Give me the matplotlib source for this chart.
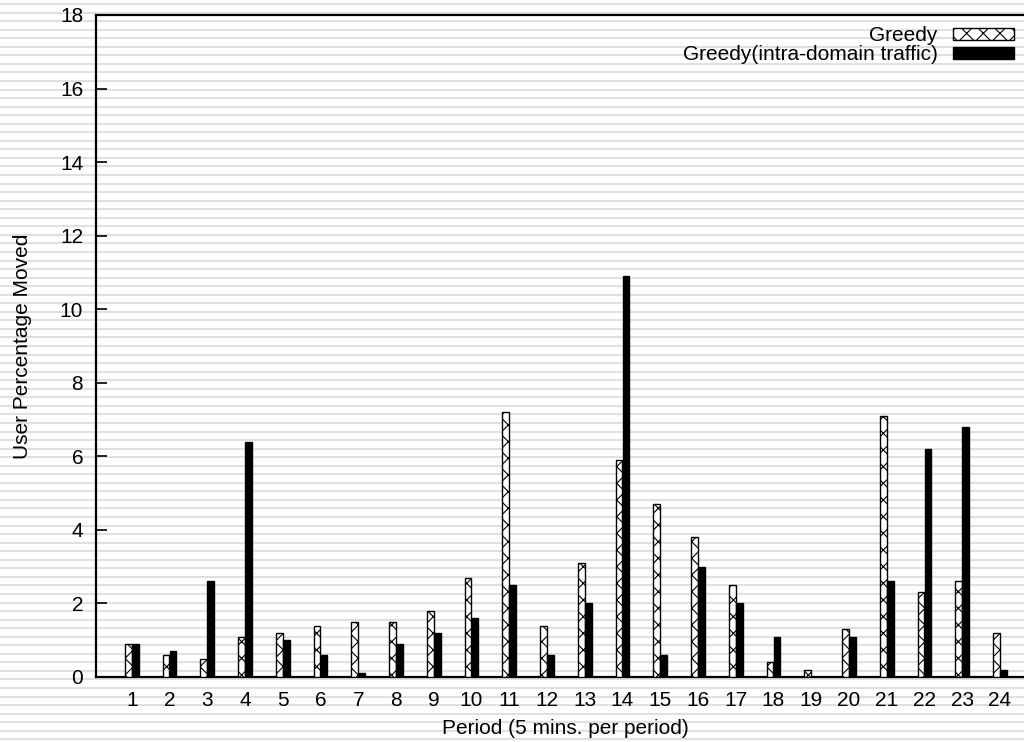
import matplotlib
matplotlib.use("Agg")
import matplotlib.pyplot as plt
from matplotlib.lines import Line2D
import numpy as np

plt.rcParams['font.family'] = ['Liberation Sans', 'DejaVu Sans']
plt.rcParams['hatch.linewidth'] = 0.8

# data
periods = list(range(1, 25))
greedy = [0.9, 0.6, 0.5, 1.1, 1.2, 1.4, 1.5, 1.5, 1.8, 2.7, 7.2, 1.4,
          3.1, 5.9, 4.7, 3.8, 2.5, 0.4, 0.2, 1.3, 7.1, 2.3, 2.6, 1.2]
greedy_intra = [0.9, 0.7, 2.6, 6.4, 1.0, 0.6, 0.1, 0.9, 1.2, 1.6, 2.5, 0.6,
                2.0, 10.9, 0.6, 3.0, 2.0, 1.1, 0.0, 1.1, 2.6, 6.2, 6.8, 0.2]
yticks = [0, 2, 4, 6, 8, 10, 12, 14, 16, 18]

fs = 15

fig = plt.figure(figsize=(10.24, 7.42), dpi=100)
fig.patch.set_facecolor('white')

# striped background over the whole figure
H = 742
y = 4.0
while y < H:
    fig.add_artist(Line2D([0, 1], [1 - y / H, 1 - y / H], transform=fig.transFigure,
                          color='#e0e0e0', lw=1.5, zorder=0))
    y += 8.55

ax = fig.add_axes([95.7 / 1024, 65 / 742, 1 - 95.7 / 1024, 662 / 742])
ax.patch.set_alpha(0)

x = np.array(periods)
w = 0.18
ax.bar(x - 0.09, greedy, w, facecolor='white', edgecolor='black', hatch='xx',
       lw=1.0, label='Greedy', zorder=3)
ax.bar(x + 0.095, greedy_intra, w, color='black', edgecolor='black', lw=1.0,
       label='Greedy(intra-domain traffic)', zorder=3)

ax.set_xlim(0.045, 24.64)
ax.set_ylim(0, 18)
ax.set_xticks(periods)
ax.set_yticks(yticks)
ax.tick_params(axis='x', length=0, labelsize=fs, pad=10)
ax.tick_params(axis='y', direction='in', length=8, width=1.2, labelsize=fs, pad=9)
ax.spines['right'].set_visible(False)
for s in ['left', 'top', 'bottom']:
    ax.spines[s].set_linewidth(1.6)

ax.set_xlabel('Period (5 mins. per period)', fontsize=fs)
ax.xaxis.set_label_coords(0.506, -0.078)
ax.xaxis.label.set_va('center')
ax.set_ylabel('User Percentage Moved', fontsize=fs, labelpad=20)

ax.legend(loc='upper right', bbox_to_anchor=(1.007, 1.008), frameon=False,
          markerfirst=False, handlelength=2.9, handleheight=0.48,
          fontsize=fs, labelspacing=0.0, handletextpad=0.75, borderpad=0.3)

fig.savefig('out.png', dpi=100)
